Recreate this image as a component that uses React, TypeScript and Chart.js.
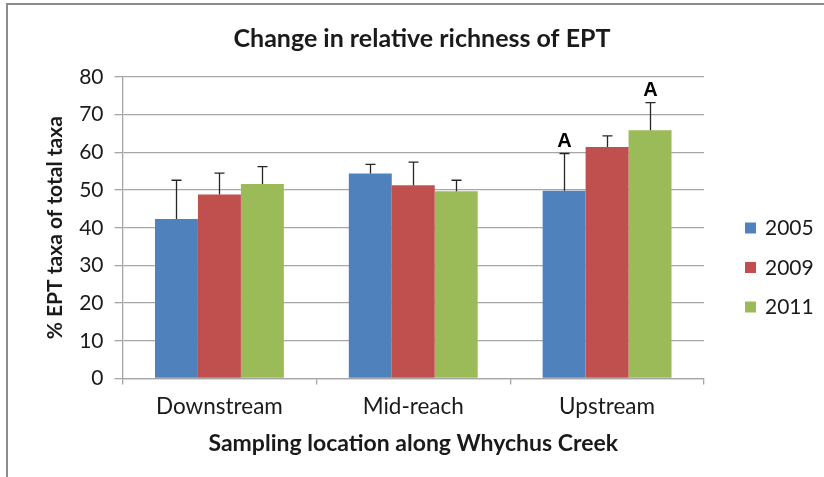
import React, { useEffect, useRef } from 'react';
import { Chart, registerables } from 'chart.js';

Chart.register(...registerables);

// ---- data ----
const categories = ['Downstream', 'Mid-reach', 'Upstream'];
const seriesNames = ['2005', '2009', '2011'];
const values2005 = [42.3, 54.4, 49.8];
const values2009 = [48.8, 51.3, 61.4];
const values2011 = [51.6, 49.7, 65.9];
const errPlus2005 = [10.3, 2.4, 9.9];
const errPlus2009 = [5.7, 6.1, 3.0];
const errPlus2011 = [4.6, 2.9, 7.3];
const letters2005 = ['', '', 'A'];
const letters2009 = ['', '', ''];
const letters2011 = ['', '', 'A'];
const yMin = 0;
const yMax = 80;
const yStep = 10;

const chartTitle = 'Change in relative richness of EPT';
const yTitle = '% EPT taxa of total taxa';
const xTitle = 'Sampling location along Whychus Creek';

const seriesColors = ['#4f81bd', '#c0504d', '#9bbb59'];
const FONT = 'Lato, "Open Sans", sans-serif';
const TEXT = '#1a1a1a';
const GRID = '#a6a6a6';

export default function App() {
  const ref = useRef<HTMLCanvasElement | null>(null);

  useEffect(() => {
    document.body.style.margin = '0';
    const canvas = ref.current;
    if (!canvas) return;

    const errs = [errPlus2005, errPlus2009, errPlus2011];
    const letters = [letters2005, letters2009, letters2011];

    const framePlugin = {
      id: 'frame',
      beforeDraw(chart: any) {
        const { ctx, width, height } = chart;
        ctx.save();
        ctx.fillStyle = '#ffffff';
        ctx.fillRect(0, 0, width, height);
        ctx.strokeStyle = '#8c8c8c';
        ctx.lineWidth = 2;
        ctx.beginPath();
        ctx.moveTo(7, height);
        ctx.lineTo(7, 4);
        ctx.lineTo(width, 4);
        ctx.stroke();
        ctx.restore();
      },
    };

    const errorBarPlugin = {
      id: 'errorBars',
      afterDatasetsDraw(chart: any) {
        const { ctx } = chart;
        const yScale = chart.scales.y;
        ctx.save();
        chart.data.datasets.forEach((ds: any, di: number) => {
          const meta = chart.getDatasetMeta(di);
          meta.data.forEach((bar: any, i: number) => {
            const v = ds.data[i];
            const top = yScale.getPixelForValue(v + errs[di][i]);
            const x = Math.round(bar.x) + 0.5;
            ctx.strokeStyle = '#262626';
            ctx.lineWidth = 1.3;
            ctx.beginPath();
            ctx.moveTo(x, bar.y);
            ctx.lineTo(x, top);
            ctx.moveTo(x - 5, top);
            ctx.lineTo(x + 5, top);
            ctx.stroke();
            const letter = letters[di][i];
            if (letter) {
              ctx.fillStyle = '#000';
              ctx.font = 'bold 20px "Liberation Sans", Arial, sans-serif';
              ctx.textAlign = 'center';
              ctx.textBaseline = 'alphabetic';
              ctx.fillText(letter, x, top - 7);
            }
          });
        });
        ctx.restore();
      },
    };

    const titleLegendPlugin = {
      id: 'titleLegend',
      afterDraw(chart: any) {
        const { ctx } = chart;
        ctx.save();
        ctx.fillStyle = TEXT;
        ctx.font = `bold 25px ${FONT}`;
        ctx.textAlign = 'center';
        ctx.textBaseline = 'middle';
        ctx.fillText(chartTitle, 422, 39);

        const cy = 267;
        const gap = 39.5;
        chart.data.datasets.forEach((ds: any, di: number) => {
          const y = cy + (di - 1) * gap;
          ctx.fillStyle = ds.backgroundColor;
          ctx.fillRect(745, y - 5, 11, 11);
          ctx.fillStyle = TEXT;
          ctx.font = `21px ${FONT}`;
          ctx.textAlign = 'left';
          ctx.textBaseline = 'middle';
          ctx.fillText(ds.label, 765, y + 1);
        });
        ctx.restore();
      },
    };

    const chart = new Chart(canvas, {
      type: 'bar',
      data: {
        labels: categories,
        datasets: [
          { label: seriesNames[0], data: values2005, backgroundColor: seriesColors[0] },
          { label: seriesNames[1], data: values2009, backgroundColor: seriesColors[1] },
          { label: seriesNames[2], data: values2011, backgroundColor: seriesColors[2] },
        ],
      },
      options: {
        animation: false,
        responsive: false,
        devicePixelRatio: 1,
        layout: { padding: { left: 0, right: 120, top: 77, bottom: 0 } },
        datasets: { bar: { categoryPercentage: 0.665, barPercentage: 1 } },
        plugins: {
          legend: { display: false },
          title: { display: false },
          tooltip: { enabled: false },
        },
        scales: {
          x: {
            afterFit: (s: any) => { s.height = 98.5; },
            grid: { drawOnChartArea: false, drawTicks: true, tickLength: 6, offset: true, color: GRID, lineWidth: 1.3 },
            border: { color: GRID, width: 1.3 },
            ticks: { color: TEXT, font: { family: FONT, size: 22.5 }, padding: 9 },
            title: {
              display: true, text: xTitle, color: TEXT,
              font: { family: FONT, size: 23, weight: 'bold' },
              padding: { top: 0, bottom: 20 },
            },
          },
          y: {
            min: yMin, max: yMax,
            afterFit: (s: any) => { s.width = 122.5; },
            ticks: { stepSize: yStep, color: TEXT, font: { family: FONT, size: 21 }, padding: 11 },
            grid: { color: GRID, lineWidth: 1.3, tickLength: 8 },
            border: { color: GRID, width: 1.3 },
            title: {
              display: true, text: yTitle, color: TEXT,
              font: { family: FONT, size: 21, weight: 'bold' },
              padding: { top: 43, bottom: 0 },
            },
          },
        },
      },
      plugins: [framePlugin, errorBarPlugin, titleLegendPlugin],
    } as any);

    return () => chart.destroy();
  }, []);

  return (
    <div style={{ position: 'absolute', left: 0, top: 0, width: 824, height: 477 }}>
      <canvas ref={ref} width={824} height={477} style={{ width: 824, height: 477, display: 'block' }} />
    </div>
  );
}
